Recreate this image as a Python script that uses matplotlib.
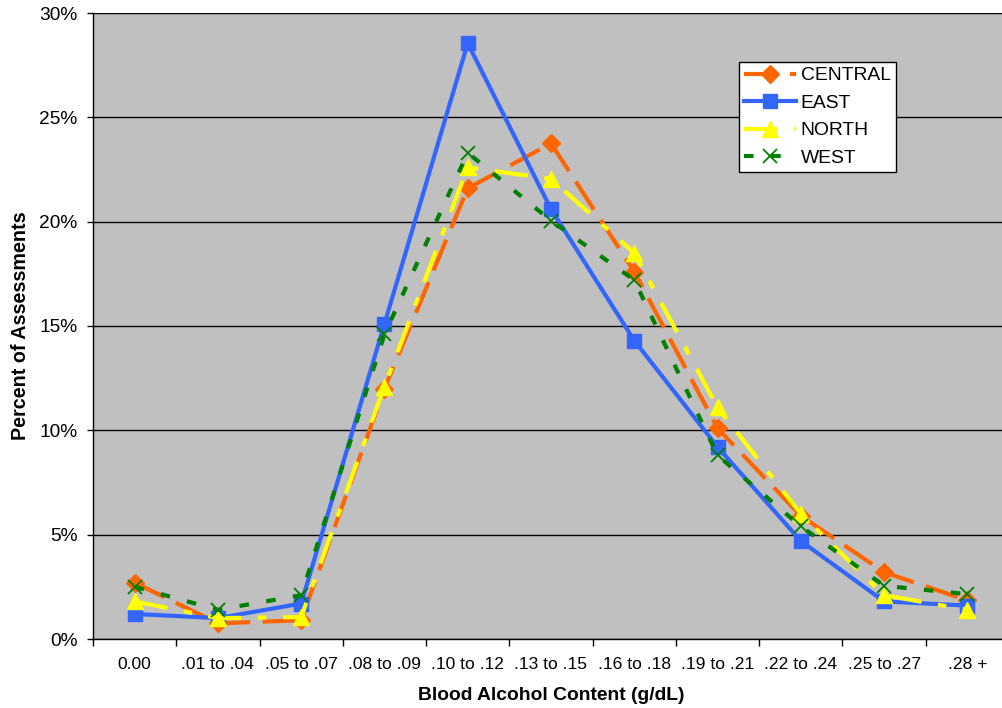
import matplotlib
matplotlib.use("Agg")
import matplotlib.pyplot as plt
from matplotlib.ticker import FixedLocator, FuncFormatter
import numpy as np

categories = ["0.00", ".01 to .04", ".05 to .07", ".08 to .09", ".10 to .12",
              ".13 to .15", ".16 to .18", ".19 to .21", ".22 to .24",
              ".25 to .27", ".28 +"]

central = [2.7, 0.75, 0.9, 12.0, 21.6, 23.75, 17.6, 10.1, 5.9, 3.2, 1.85]
east = [1.2, 1.0, 1.7, 15.1, 28.55, 20.6, 14.3, 9.2, 4.7, 1.8, 1.6]
north = [1.8, 1.0, 1.05, 12.1, 22.6, 22.05, 18.5, 11.1, 6.0, 2.1, 1.4]
west = [2.5, 1.4, 2.1, 14.6, 23.3, 20.05, 17.2, 8.8, 5.4, 2.55, 2.15]

plt.rcParams["font.family"] = ["Liberation Sans", "DejaVu Sans"]

fig = plt.figure(figsize=(10.03, 7.08), dpi=100)
ax = fig.add_axes([93 / 1003, 69 / 708, 916 / 1003, 626 / 708])
ax.set_facecolor("#C0C0C0")

x = np.arange(len(categories))

ax.plot(x, central, color="#FF6600", lw=3.0, dashes=(8, 3),
        marker="D", ms=9, mec="#FF6600", mfc="#FF6600", label="CENTRAL", zorder=3)
ax.plot(x, east, color="#3366FF", lw=3.0, linestyle="-",
        marker="s", ms=10, mec="#3366FF", mfc="#3366FF", label="EAST", zorder=3)
ax.plot(x, north, color="#FFFF00", lw=3.0, dashes=(8, 4, 2, 4),
        marker="^", ms=11, mec="#FFFF00", mfc="#FFFF00", label="NORTH", zorder=3)
ax.plot(x, west, color="#008000", lw=3.0, dashes=(2.3, 4.2),
        marker="x", ms=10, mew=1.3, mec="#008000", label="WEST", zorder=3)

ax.set_xlim(-0.5, len(categories) - 0.5)
ax.set_ylim(0, 30)

ax.yaxis.set_major_locator(FixedLocator(np.arange(0, 31, 5)))
ax.yaxis.set_major_formatter(FuncFormatter(lambda v, p: f"{v:.0f}%"))
ax.grid(axis="y", color="black", lw=1.0)
ax.set_axisbelow(True)

ax.set_xticks(x)
ax.set_xticklabels(categories)
ax.set_xticks(np.arange(-0.5, len(categories)), minor=True)
ax.tick_params(axis="x", which="major", length=0, pad=13, labelsize=12.6)
ax.tick_params(axis="x", which="minor", length=5, width=1, direction="out")
ax.tick_params(axis="y", which="major", length=4.3, width=1, direction="out",
               labelsize=13.8, pad=7)

for side in ("top", "right"):
    ax.spines[side].set_visible(False)
for side in ("left", "bottom"):
    ax.spines[side].set_color("black")
    ax.spines[side].set_linewidth(1.0)

ax.set_xlabel("Blood Alcohol Content (g/dL)", fontsize=13.9, fontweight="bold", labelpad=11)
ax.set_ylabel("Percent of Assessments", fontsize=14.2, fontweight="bold", labelpad=6.5)

leg = ax.legend(loc="upper left", bbox_to_anchor=((739 - 93) / 916, 1 - (62 - 13) / 626),
                frameon=True, fancybox=False, edgecolor="black", facecolor="white",
                framealpha=1, fontsize=13.9, handlelength=2.7, handletextpad=0.25,
                borderpad=0.25, labelspacing=0.52, borderaxespad=0)
leg.get_frame().set_linewidth(1.0)

fig.savefig("out.png", dpi=100, facecolor="white")
